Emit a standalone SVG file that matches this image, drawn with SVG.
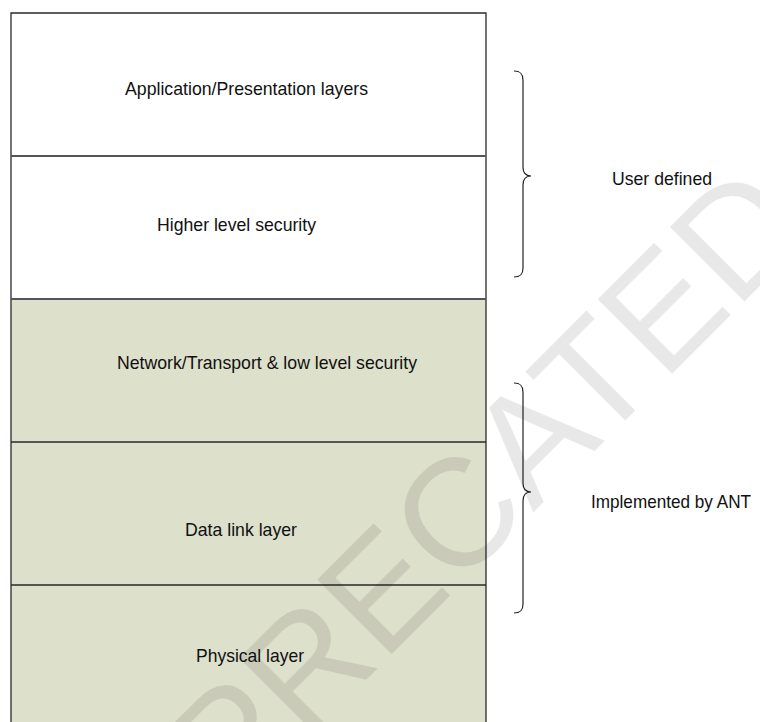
<svg xmlns="http://www.w3.org/2000/svg" width="760" height="722" viewBox="0 0 760 722">
  <style>
    .box { stroke: none; }
    .white { fill: #ffffff; }
    .green { fill: #dde0cb; }
    .line { stroke: #2a2a2a; stroke-width: 1.3; fill: none; }
    .split { stroke: #555555; stroke-width: 1.8; fill: none; }
    .lbl { font-family: "Liberation Sans", Arial, sans-serif; font-size: 19px; fill: #111111; }
    .brace { stroke: #222222; stroke-width: 1.2; fill: none; }
    .wm { font-family: "Liberation Sans", Arial, sans-serif; font-size: 153px; fill: #000000; fill-opacity: 0.09; }
  </style>
  <rect x="0" y="0" width="760" height="722" fill="#ffffff"/>

  <g id="layer-application">
    <rect class="box white" x="11" y="13" width="475" height="143"/>
    <text class="lbl" x="125" y="95" textLength="243" lengthAdjust="spacingAndGlyphs">Application/Presentation layers</text>
  </g>
  <g id="layer-higher-security">
    <rect class="box white" x="11" y="156" width="475" height="143"/>
    <text class="lbl" x="157" y="231" textLength="159" lengthAdjust="spacingAndGlyphs">Higher level security</text>
  </g>
  <g id="layer-network">
    <rect class="box green" x="11" y="299" width="475" height="143"/>
    <text class="lbl" x="117" y="369" textLength="300" lengthAdjust="spacingAndGlyphs">Network/Transport &amp; low level security</text>
  </g>
  <g id="layer-datalink">
    <rect class="box green" x="11" y="442" width="475" height="143"/>
    <text class="lbl" x="185" y="536" textLength="112" lengthAdjust="spacingAndGlyphs">Data link layer</text>
  </g>
  <g id="layer-physical">
    <rect class="box green" x="11" y="585" width="475" height="143"/>
    <text class="lbl" x="196" y="662" textLength="108" lengthAdjust="spacingAndGlyphs">Physical layer</text>
  </g>

  <g id="stack-outline">
    <polyline class="line" points="11,730 11,13 486,13 486,730"/>
    <line class="split" x1="11" y1="156" x2="486" y2="156"/>
    <line class="split" x1="11" y1="299" x2="486" y2="299"/>
    <line class="line" x1="11" y1="442" x2="486" y2="442"/>
    <line class="line" x1="11" y1="585" x2="486" y2="585"/>
  </g>

  <g id="connectors">
    <path class="brace" d="M514,71 C521,71 523,74 523,80 L523,167 C523,173 526,176 531,176 C526,176 523,179 523,185 L523,268 C523,274 521,277 514,277"/>
    <path class="brace" d="M514,383 C521,383 523,386 523,392 L523,483 C523,489 526,492 531,492 C526,492 523,495 523,501 L523,604 C523,610 521,613 514,613"/>
  </g>

  <g id="label-user-defined">
    <text class="lbl" x="612" y="185" textLength="100" lengthAdjust="spacingAndGlyphs">User defined</text>
  </g>
  <g id="label-implemented">
    <text class="lbl" x="591" y="508" textLength="160" lengthAdjust="spacingAndGlyphs">Implemented by ANT</text>
  </g>

  <g id="watermark">
    <text class="wm" transform="translate(409,559) rotate(-45)" x="0" y="55" text-anchor="middle">DEPRECATED</text>
  </g>
</svg>
